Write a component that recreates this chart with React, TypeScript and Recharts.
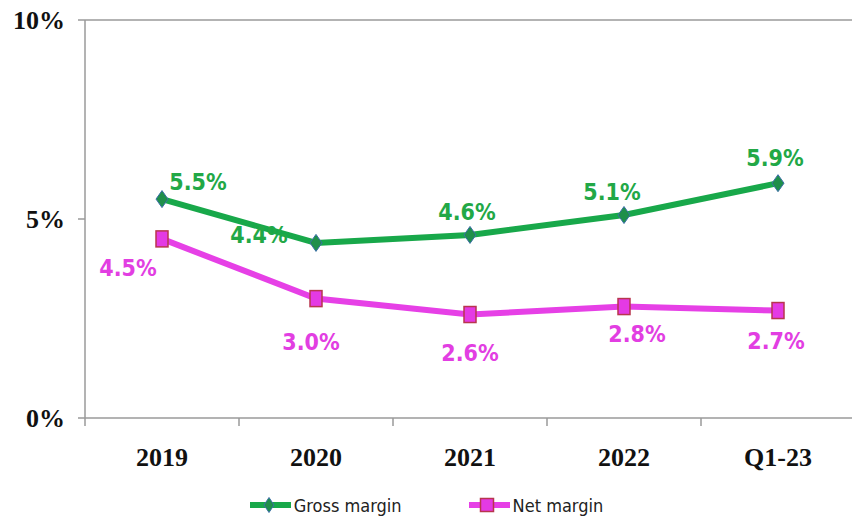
import React from 'react';
import { LineChart, Line, XAxis, YAxis, ReferenceLine, LabelList, Legend } from 'recharts';

const categories = ['2019', '2020', '2021', '2022', 'Q1-23'];
const grossMargin = [5.5, 4.4, 4.6, 5.1, 5.9];
const netMargin = [4.5, 3.0, 2.6, 2.8, 2.7];
const yTicks = [0, 5, 10];

// label offsets from each point (px), picked to mimic the original placement
const grossLabelOffsets = [[36, -17], [-57, -8], [-3, -23], [-12, -23], [-3, -25]];
const netLabelOffsets = [[-34, 29], [-5, 43], [0, 38], [13, 27], [-2, 30]];

const W = 870;
const H = 519;
const MARGIN = { top: 20, right: 15, left: 0, bottom: 0 };
const Y_WIDTH = 85;
const BAND = (W - MARGIN.left - MARGIN.right - Y_WIDTH) / categories.length;

const GREEN = '#18a84a';
const MAGENTA = '#e640e6';
const AXIS = '#9a9a9a';
const LABEL_FONT = "'DejaVu Sans Condensed', 'DejaVu Sans', sans-serif";
const TICK_FONT = "'Liberation Serif', serif";

const data = categories.map((c, i) => ({ name: c, gross: grossMargin[i], net: netMargin[i] }));

const Diamond = ({ cx, cy, w = 12, h = 17 }: any) => (
  <path
    d={`M${cx},${cy - h / 2} L${cx + w / 2},${cy} L${cx},${cy + h / 2} L${cx - w / 2},${cy} Z`}
    fill="#1f8f4a"
    stroke="#3b6fa8"
    strokeWidth={1}
  />
);

const Square = ({ cx, cy, w = 12, h = 16 }: any) => (
  <rect x={cx - w / 2} y={cy - h / 2} width={w} height={h} fill="#e43ae4" stroke="#b8364e" strokeWidth={1.5} />
);

const makeLabel = (offsets: number[][], color: string) => (props: any) => {
  const { x, y, value, index } = props;
  const [dx, dy] = offsets[index] || [0, 0];
  return (
    <text
      x={x + dx}
      y={y + dy}
      fill={color}
      textAnchor="middle"
      dominantBaseline="central"
      style={{ fontFamily: LABEL_FONT, fontStretch: 'condensed', fontWeight: 'bold', fontSize: 23 }}
    >
      {`${value.toFixed(1)}%`}
    </text>
  );
};

const XTick = ({ x, y, payload, index }: any) => {
  const last = index === categories.length - 1;
  return (
    <g>
      <line x1={x - BAND / 2} y1={y} x2={x - BAND / 2} y2={y + 8} stroke={AXIS} strokeWidth={1.5} />
      {last && <line x1={x + BAND / 2} y1={y} x2={x + BAND / 2} y2={y + 8} stroke={AXIS} strokeWidth={1.5} />}
      <text
        x={x}
        y={y + 48}
        textAnchor="middle"
        fill="#111"
        style={{ fontFamily: TICK_FONT, fontWeight: 'bold', fontSize: 26 }}
      >
        {payload.value}
      </text>
    </g>
  );
};

const LegendContent = () => (
  <div style={{ display: 'flex', justifyContent: 'center', gap: 66, height: 41, width: 852, paddingTop: 17, boxSizing: 'border-box' }}>
    {[
      { name: 'Gross margin', color: GREEN, marker: 'diamond' },
      { name: 'Net margin', color: MAGENTA, marker: 'square' },
    ].map(item => (
      <div key={item.name} style={{ display: 'flex', alignItems: 'center', height: 20 }}>
        <svg width={43} height={20}>
          <line x1={1} y1={10} x2={42} y2={10} stroke={item.color} strokeWidth={6} />
          {item.marker === 'diamond' ? <Diamond cx={20} cy={10} w={10} h={15} /> : <Square cx={19} cy={10} w={13} h={13} />}
        </svg>
        <span style={{ fontFamily: LABEL_FONT, fontStretch: 'condensed', fontSize: 18, color: '#222', marginLeft: 2 }}>
          {item.name}
        </span>
      </div>
    ))}
  </div>
);

export default function App() {
  return (
    <div style={{ position: 'absolute', left: 0, top: 0, width: 852, height: 519, overflow: 'hidden', background: '#fff' }}>
      <LineChart width={W} height={H} data={data} margin={MARGIN}>
        <XAxis
          dataKey="name"
          scale="band"
          height={60}
          tickLine={false}
          tickSize={0}
          tickMargin={0}
          stroke={AXIS}
          strokeWidth={1.5}
          tick={<XTick />}
          interval={0}
        />
        <YAxis
          width={Y_WIDTH}
          domain={[0, 10]}
          ticks={yTicks}
          tickFormatter={(v: number) => `${v}%`}
          stroke={AXIS}
          strokeWidth={1.5}
          tickSize={7}
          tickMargin={13}
          tick={{ fill: '#111', fontFamily: TICK_FONT, fontWeight: 'bold', fontSize: 26 }}
        />
        <ReferenceLine y={10} stroke={AXIS} strokeWidth={1.5} />
        <Legend verticalAlign="bottom" content={<LegendContent />} wrapperStyle={{ left: 0, width: 852 }} />
        <Line
          dataKey="gross"
          name="Gross margin"
          stroke={GREEN}
          strokeWidth={6}
          isAnimationActive={false}
          dot={(p: any) => <Diamond key={`g-${p.index}`} cx={p.cx} cy={p.cy} />}
        >
          <LabelList dataKey="gross" content={makeLabel(grossLabelOffsets, '#22a846')} />
        </Line>
        <Line
          dataKey="net"
          name="Net margin"
          stroke={MAGENTA}
          strokeWidth={6}
          isAnimationActive={false}
          dot={(p: any) => <Square key={`n-${p.index}`} cx={p.cx} cy={p.cy} />}
        >
          <LabelList dataKey="net" content={makeLabel(netLabelOffsets, '#e23ee2')} />
        </Line>
      </LineChart>
    </div>
  );
}
